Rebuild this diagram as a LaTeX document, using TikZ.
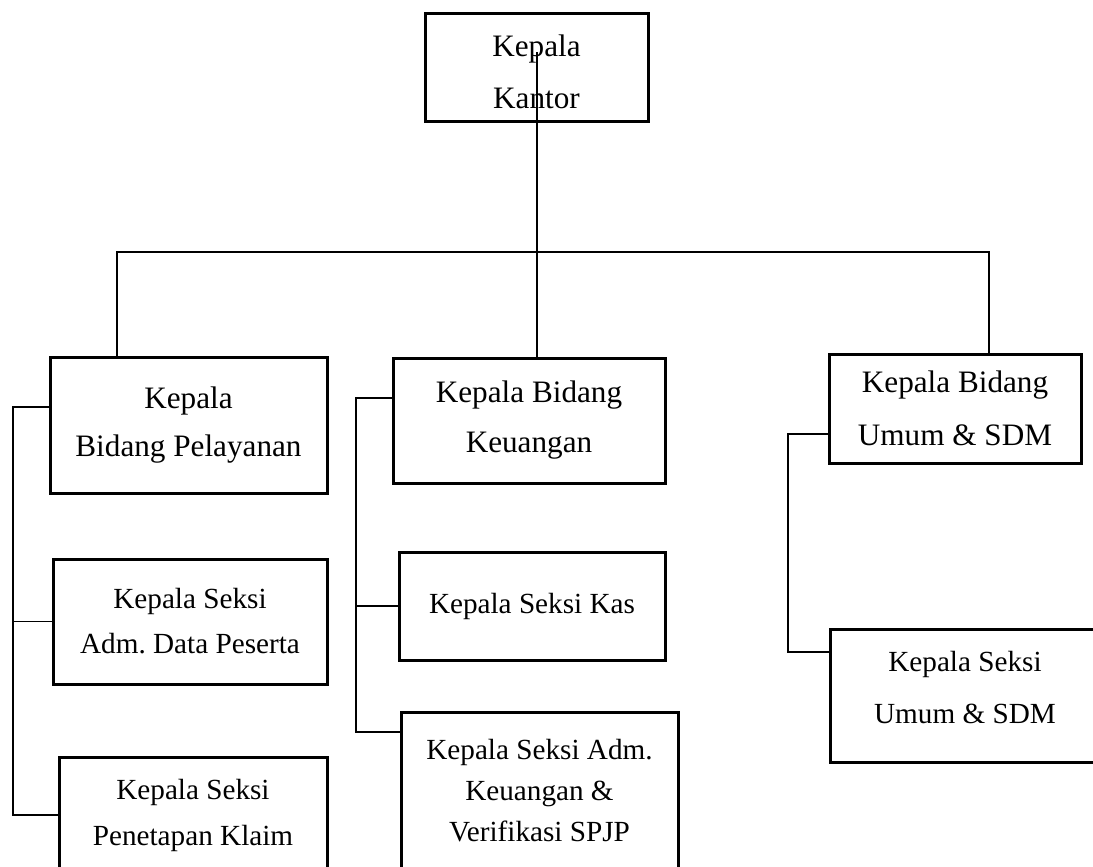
\documentclass[tikz,border=0pt]{standalone}
\usepackage{fontspec}
\setmainfont{Liberation Serif}
\frenchspacing
\begin{document}
\begin{tikzpicture}[x=0.5pt,y=-0.5pt]
\tikzset{
  box/.style={draw, line width=1.5pt, rectangle, inner sep=0pt, align=center, anchor=center},
  head/.style={box, font=\fontsize{15.6}{#1}\selectfont},
  sec/.style={box, font=\fontsize{14.6}{#1}\selectfont},
  conn/.style={line width=0.8pt}
}
\useasboundingbox (0,0) rectangle (1093,867);
% boxes
\node[head=26, minimum width=111.5pt, minimum height=54pt] (kantor) at (536.5,67) {\rule{0pt}{15.7pt}Kepala\\Kantor};
\node[head=24, minimum width=138.5pt, minimum height=68pt] (pel) at (188.5,425) {Kepala\\Bidang Pelayanan};
\node[sec=22.5, minimum width=137pt, minimum height=62.5pt] (admdata) at (190,621.5) {Kepala Seksi\\Adm.\ Data Peserta};
\node[sec=23, minimum width=134pt, minimum height=58pt] (penet) at (193,815) {Kepala Seksi\\Penetapan Klaim};
\node[head=25, minimum width=136pt, minimum height=62.5pt] (keu) at (529,420.5) {Kepala Bidang\\Keuangan};
\node[sec=20, minimum width=133pt, minimum height=54pt] (kas) at (532,606) {Kepala Seksi Kas};
\node[sec=20.5, minimum width=138.5pt, minimum height=79pt] (admkeu) at (539.5,791) {Kepala Seksi Adm.\\Keuangan \&\\Verifikasi SPJP};
\node[head=26.5, minimum width=126pt, minimum height=54.5pt] (umum) at (955,408.5) {Kepala Bidang\\Umum \& SDM};
\node[sec=26, minimum width=135pt, minimum height=66.5pt] (sumum) at (965,695.5) {Kepala Seksi\\Umum \& SDM\rule[-8pt]{0pt}{0pt}};
% top connectors
\coordinate (kt) at (537,52);
\coordinate (bl) at (117,252);
\coordinate (br) at (989,252);
\draw[conn] (kt) -- (kt |- keu.north);
\draw[conn] (bl |- pel.north) -- (bl) -- (br) -- (br |- umum.north);
% Pelayanan branch
\coordinate (pl) at (13,407);
\draw[conn] (pel.west |- pl) -- (pl) -- (pl |- penet.west) -- (penet.west);
\draw[conn] (pl |- admdata.west) -- (admdata.west);
% Keuangan branch
\coordinate (kl) at (356,398);
\draw[conn] (keu.west |- kl) -- (kl) -- (kl |- 0,732) -- (admkeu.west |- 0,732);
\draw[conn] (kl |- kas.west) -- (kas.west);
% Umum branch
\coordinate (ul) at (788,434);
\draw[conn] (umum.west |- ul) -- (ul) -- (ul |- 0,652) -- (sumum.west |- 0,652);
\end{tikzpicture}
\end{document}
